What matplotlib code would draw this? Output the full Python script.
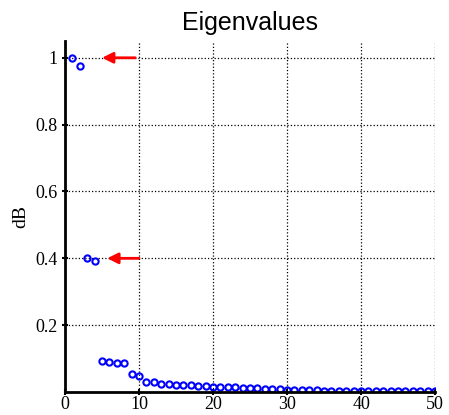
import matplotlib.pyplot as plt

# eigenvalue index and normalised value
idx = list(range(1, 51))
vals = [1.0, 0.975, 0.400, 0.393, 0.093, 0.091, 0.088, 0.086, 0.053, 0.049,
        0.031, 0.030, 0.025, 0.025, 0.022, 0.021, 0.020, 0.019, 0.018, 0.016,
        0.016, 0.015, 0.014, 0.012, 0.011, 0.011, 0.010, 0.010, 0.009, 0.007,
        0.006, 0.006, 0.006, 0.005, 0.004, 0.004, 0.004, 0.003, 0.003, 0.003,
        0.003, 0.003, 0.002, 0.002, 0.002, 0.002, 0.002, 0.002, 0.002, 0.002]

# red arrows: (start x, tip x, y)
arrows = [(9.5, 5.0, 1.0), (10.0, 5.7, 0.40)]

xticks = [0, 10, 20, 30, 40, 50]
yticks = [0.2, 0.4, 0.6, 0.8, 1.0]
yticklabels = ["0.2", "0.4", "0.6", "0.8", "1"]

fig = plt.figure(figsize=(4.49, 4.15), dpi=100)
ax = fig.add_axes([0.1448, 0.0554, 0.8242, 0.8456])

ax.plot(idx, vals, linestyle='none', marker='o', markersize=4.5,
        markerfacecolor='none', markeredgecolor='blue', markeredgewidth=1.5)

for x0, x1, y in arrows:
    ax.annotate('', xy=(x1, y), xytext=(x0, y),
                arrowprops=dict(arrowstyle='-|>', color='red', lw=2,
                                mutation_scale=16, shrinkA=0, shrinkB=0))

ax.set_xlim(0, 50)
ax.set_ylim(0, 1.05)
ax.set_xticks(xticks)
ax.set_yticks(yticks)
ax.set_yticklabels(yticklabels)
ax.grid(True, color='black', linestyle=':', linewidth=0.9)

for s in ['top', 'right']:
    ax.spines[s].set_visible(False)
for s in ['left', 'bottom']:
    ax.spines[s].set_linewidth(2)

ax.tick_params(direction='inout', length=4, width=1.5, labelsize=13)
ax.tick_params(axis='x', pad=1)
for lab in ax.get_xticklabels() + ax.get_yticklabels():
    lab.set_family('Liberation Serif')

ax.set_ylabel('dB', family='Liberation Serif', fontsize=14)
ax.set_title('Eigenvalues', family='Liberation Sans', fontsize=18, pad=8)

fig.savefig('out.png', dpi=100)
